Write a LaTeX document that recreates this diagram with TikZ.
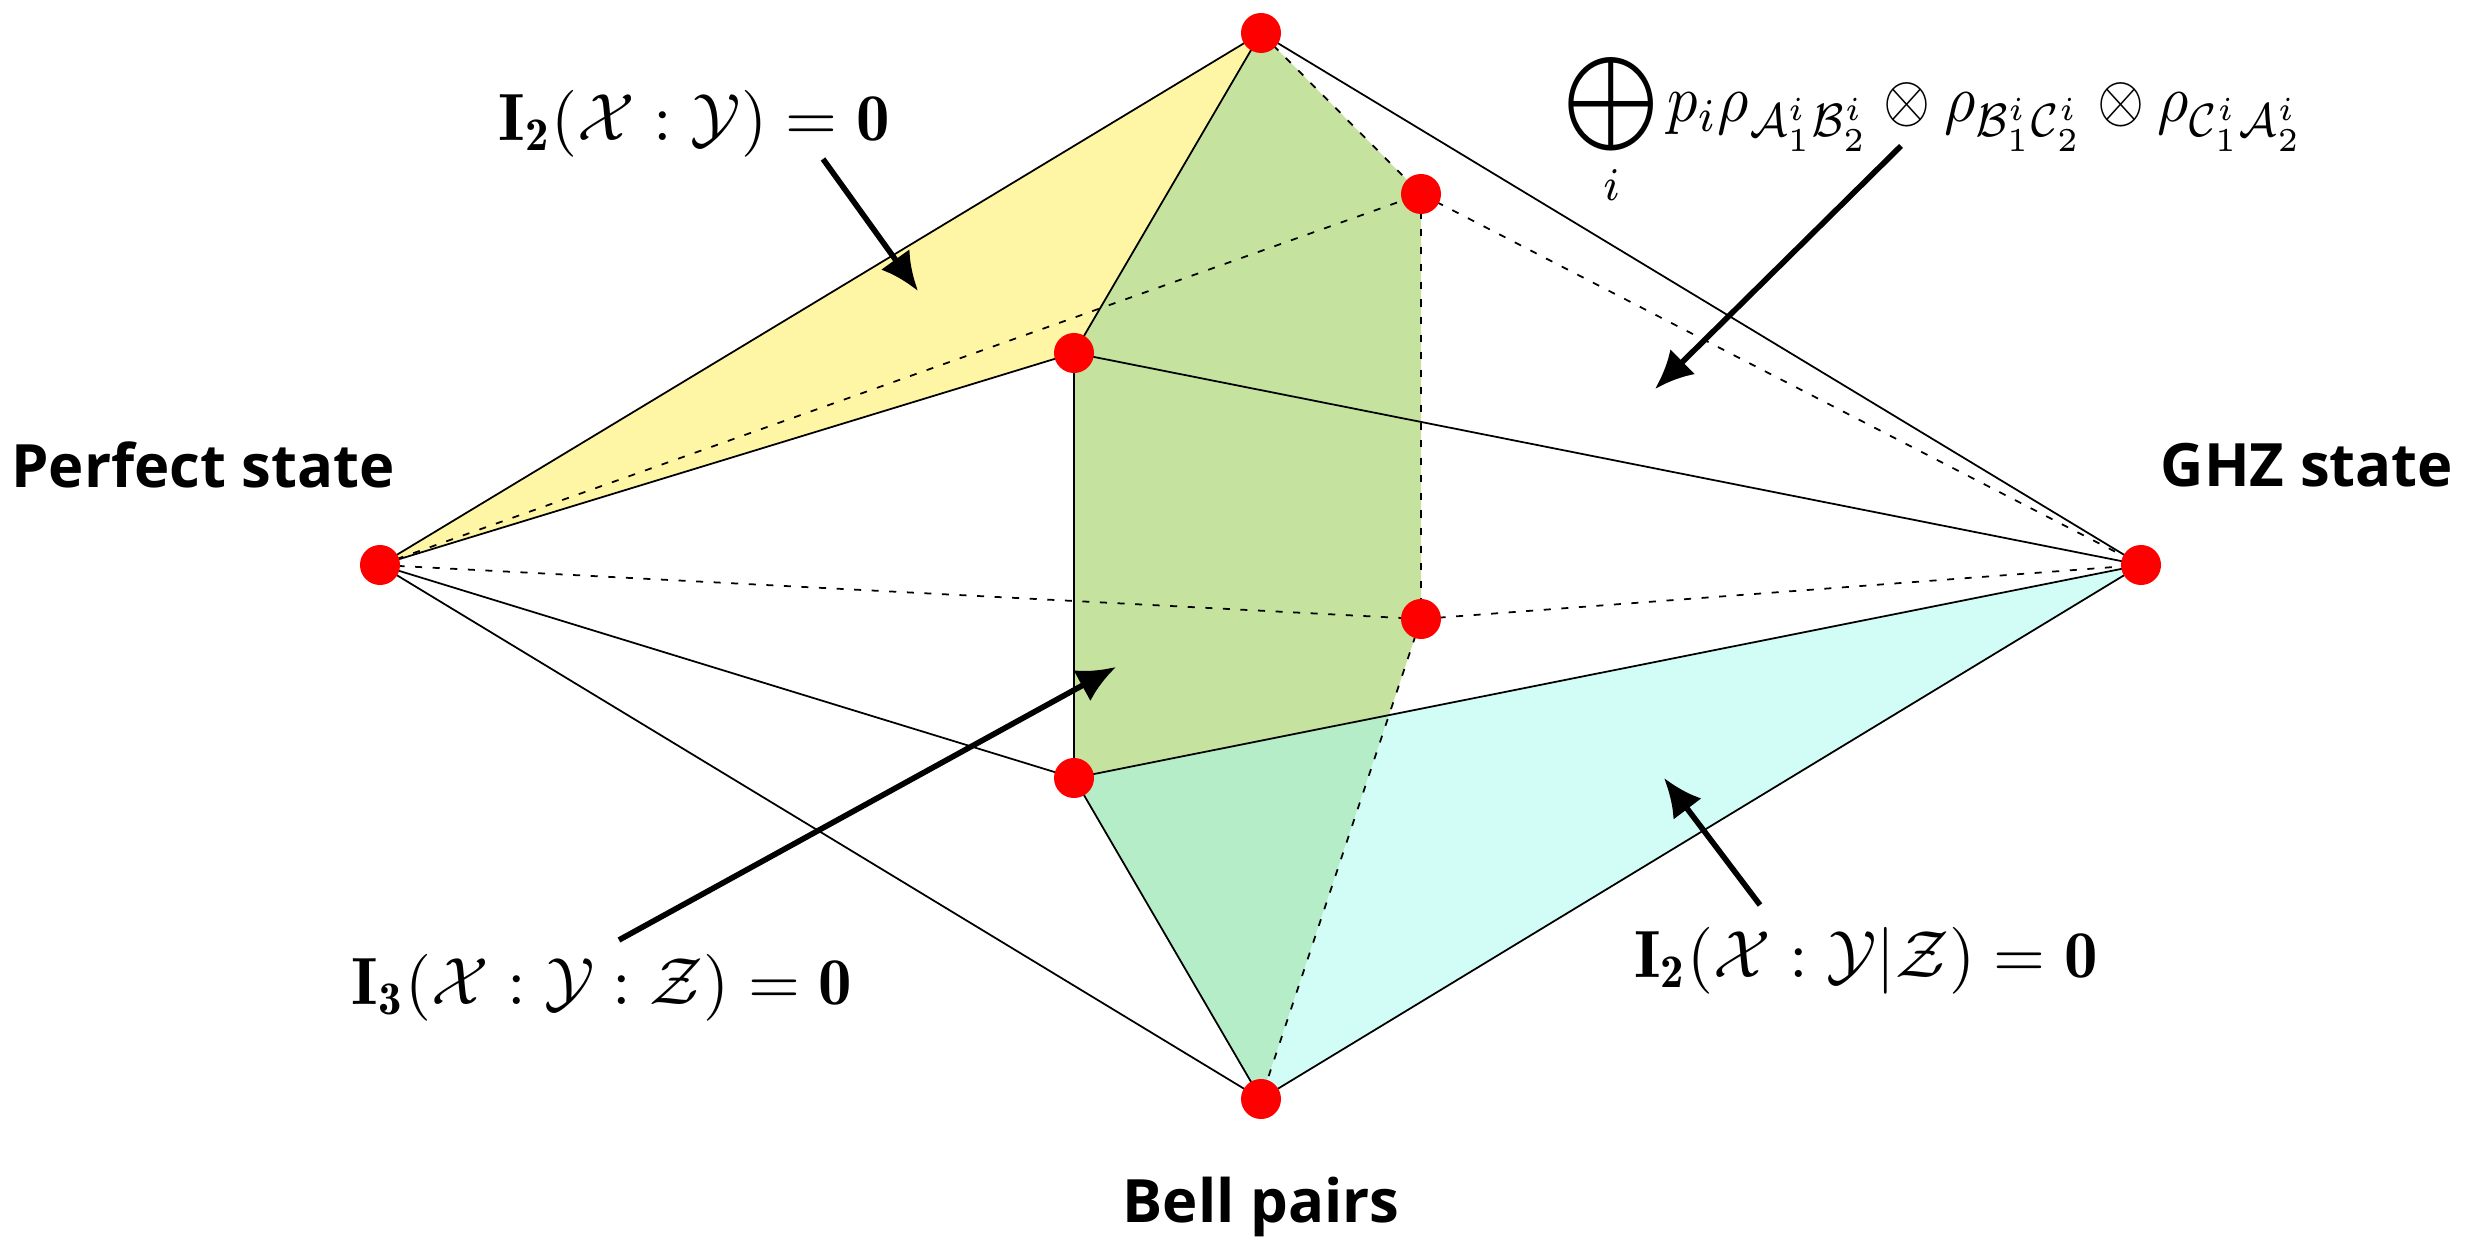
\documentclass[tikz,border=0pt]{standalone}
\usepackage{amsmath,amssymb}
\usepackage{fontspec}
\newfontfamily\labelfont{Open Sans}
\usetikzlibrary{arrows.meta}
\definecolor{yellowfill}{RGB}{255,246,165}
\definecolor{greenfill}{RGB}{197,226,158}
\definecolor{mintfill}{RGB}{181,237,200}
\definecolor{cyanfill}{RGB}{210,252,246}
\newcommand{\bigmath}[1]{\scalebox{1.9}{$#1$}}
\newcommand{\widemath}[1]{\scalebox{1.72}[1.9]{$#1$}}
\begin{document}
\begin{tikzpicture}[x=0.01cm,y=-0.01cm,
  edge/.style={line width=0.5pt,black},
  hidden/.style={line width=0.5pt,black,dash pattern=on 2pt off 3pt},
  dot/.style={circle,fill=red,inner sep=0pt,minimum size=0.4cm},
  pointer/.style={line width=1.6pt,-{Latex[length=11pt,width=10pt]}},
  statelabel/.style={font=\labelfont\bfseries\fontsize{17}{20}\selectfont},
  mathlabel/.style={inner sep=0pt}]
\useasboundingbox (0,0) rectangle (2490,1237);
% vertices
\coordinate (T) at (1261,33);
\coordinate (P) at (380,565);
\coordinate (G) at (2141,565);
\coordinate (Bo) at (1261,1099);
\coordinate (A) at (1074,353);
\coordinate (B) at (1421,194);
\coordinate (C) at (1421,619);
\coordinate (D) at (1074,778);
\coordinate (X) at (intersection of C--Bo and D--G);
% faces
\fill[yellowfill] (P) -- (T) -- (A) -- cycle;
\fill[greenfill] (T) -- (B) -- (C) -- (X) -- (D) -- (A) -- cycle;
\fill[mintfill] (D) -- (X) -- (Bo) -- cycle;
\fill[cyanfill] (X) -- (G) -- (Bo) -- cycle;
% hidden edges
\draw[hidden] (T) -- (B);
\draw[hidden] (P) -- (B);
\draw[hidden] (B) -- (G);
\draw[hidden] (B) -- (C);
\draw[hidden] (P) -- (C);
\draw[hidden] (C) -- (G);
\draw[hidden] (C) -- (Bo);
% visible edges
\draw[edge] (T) -- (P);
\draw[edge] (T) -- (A);
\draw[edge] (T) -- (G);
\draw[edge] (P) -- (A);
\draw[edge] (P) -- (D);
\draw[edge] (P) -- (Bo);
\draw[edge] (A) -- (D);
\draw[edge] (A) -- (G);
\draw[edge] (D) -- (G);
\draw[edge] (D) -- (Bo);
\draw[edge] (Bo) -- (G);
% dots
\foreach \v in {T,P,G,Bo,A,B,C,D} \node[dot] (n\v) at (\v) {};
% state labels
\node[statelabel] (perfect) at (203,465) {Perfect state};
\node[statelabel] (ghz) at (2307,465) {GHZ state};
\node[statelabel] (bell) at (1261,1207) {Bell pairs};
% math labels
\node[mathlabel] (lxy) at (694,124) {\bigmath{\mathbf{I}_{\mathbf{2}}(\mathcal{X}:\mathcal{Y})=\mathbf{0}}};
\node[mathlabel] (lsum) at (1935,129) {\widemath{\displaystyle\bigoplus_i p_i\rho_{\mathcal{A}_1^i\mathcal{B}_2^i}\otimes\rho_{\mathcal{B}_1^i\mathcal{C}_2^i}\otimes\rho_{\mathcal{C}_1^i\mathcal{A}_2^i}}};
\node[mathlabel] (lxyz) at (602,988) {\bigmath{\mathbf{I}_{\mathbf{3}}(\mathcal{X}:\mathcal{Y}:\mathcal{Z})=\mathbf{0}}};
\node[mathlabel] (lcond) at (1866,961) {\bigmath{\mathbf{I}_{\mathbf{2}}(\mathcal{X}:\mathcal{Y}|\mathcal{Z})=\mathbf{0}}};
% pointers
\coordinate (s1) at (823,159); \coordinate (e1) at (918,291);
\coordinate (s2) at (1901,146); \coordinate (e2) at (1655,389);
\coordinate (s3) at (619,940); \coordinate (e3) at (1116,667);
\coordinate (s4) at (1760,905); \coordinate (e4) at (1664,778);
\draw[pointer] (s1) -- (e1);
\draw[pointer] (s2) -- (e2);
\draw[pointer] (s3) -- (e3);
\draw[pointer] (s4) -- (e4);
\end{tikzpicture}
\end{document}
